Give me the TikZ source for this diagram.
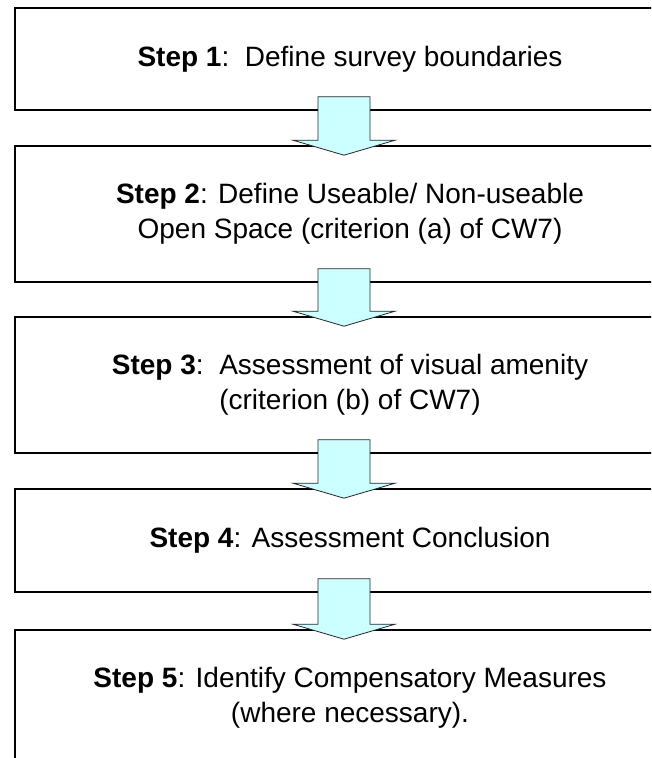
\documentclass[tikz,border=0pt]{standalone}
\usepackage{fontspec}
\setmainfont{Liberation Sans}
\usetikzlibrary{calc}
\definecolor{arrowfill}{HTML}{CCFFFF}
\tikzstyle{stepbox}=[rectangle, draw, line width=1.6pt, minimum width=670pt, inner sep=0pt, align=center, font=\fontsize{28}{35}\selectfont]
\tikzstyle{flowarrow}=[draw=black!85, line width=0.8pt, fill=arrowfill, line join=miter]

\begin{document}
\begin{tikzpicture}[x=1pt, y=-1pt]
\useasboundingbox (0,0) rectangle (651,758);
\clip (0,0) rectangle (651,758);

\node[stepbox, minimum height=102pt] (s1) at (350,59) {\textbf{Step 1}:\ \ Define survey boundaries};
\node[stepbox, minimum height=136pt] (s2) at (350,214) {\textbf{Step 2}: Define Useable/ Non-useable\\Open Space (criterion (a) of CW7)};
\node[stepbox, minimum height=136pt] (s3) at (350,385) {\textbf{Step 3}:\ \ Assessment of visual amenity\\(criterion (b) of CW7)};
\node[stepbox, minimum height=103pt] (s4) at (350,540.5) {\textbf{Step 4}: Assessment Conclusion};
\node[stepbox, minimum height=136pt] (s5) at (350,698) {\textbf{Step 5}: Identify Compensatory Measures\\(where necessary).};

% block arrows between the steps
\foreach \a/\b in {s1/s2, s2/s3, s3/s4, s4/s5}{
	\coordinate (top) at ($(\a.south)+(-6,-14)$);
	\coordinate (tip) at ($(\b.north)+(-6,10)$);
	\draw[flowarrow] ($(top)+(-26,0)$) -- ($(top)+(26,0)$) -- ($(tip)+(26,-15)$) -- ($(tip)+(51,-15)$) -- (tip) -- ($(tip)+(-51,-15)$) -- ($(tip)+(-26,-15)$) -- cycle;
}

\end{tikzpicture}
\end{document}
